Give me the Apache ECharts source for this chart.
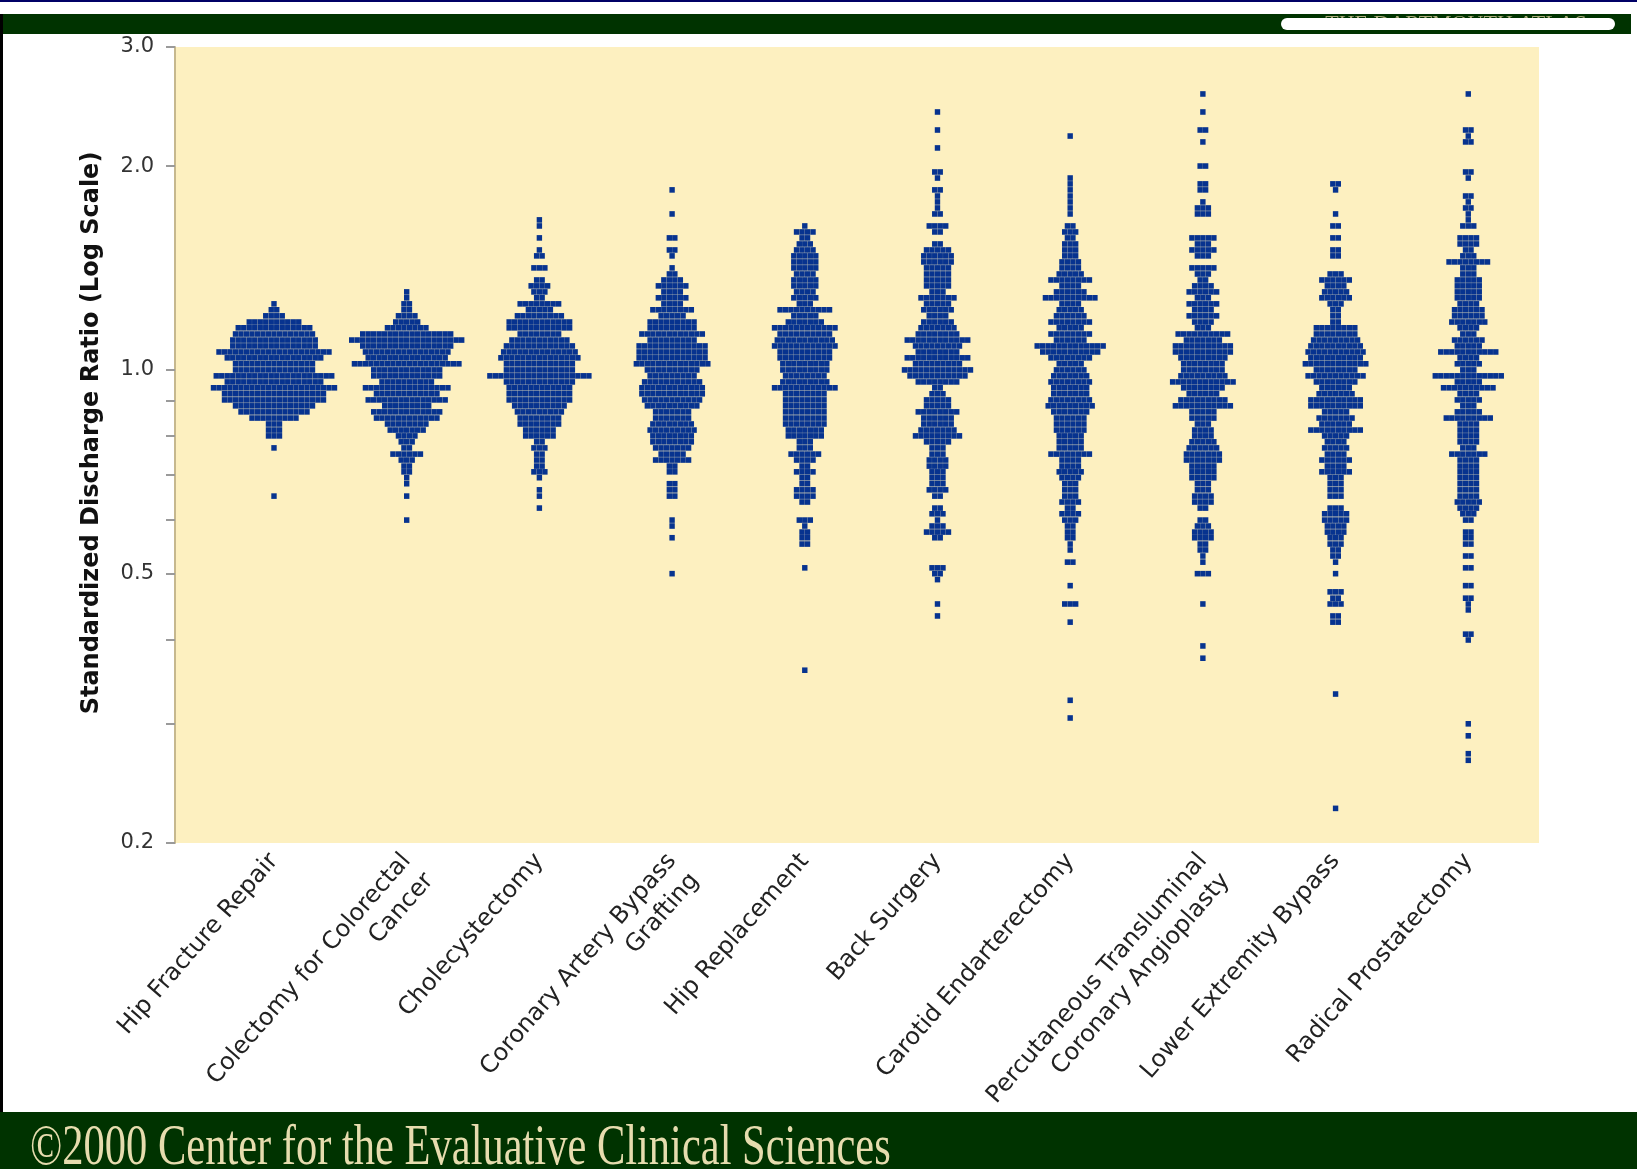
<!DOCTYPE html>
<html>
<head>
<meta charset="utf-8">
<script src="https://cdn.jsdelivr.net/npm/echarts@6/dist/echarts.min.js"></script>
<style>
  html, body { margin: 0; padding: 0; background: #ffffff; }
  #chart { width: 1637px; height: 1169px; }
</style>
</head>
<body>
<div id="chart"></div>
<script>
// ---- categories ----
const procedures = [
  'Hip Fracture Repair',
  'Colectomy for Colorectal\nCancer',
  'Cholecystectomy',
  'Coronary Artery Bypass\nGrafting',
  'Hip Replacement',
  'Back Surgery',
  'Carotid Endarterectomy',
  'Percutaneous Transluminal\nCoronary Angioplasty',
  'Lower Extremity Bypass',
  'Radical Prostatectomy'
];

// ---- data: each row of dots = [standardized discharge ratio, number of regions] ----
const hipFractureRepair = [[1.252,1],[1.227,2],[1.202,4],[1.177,10],[1.154,14],[1.130,15],[1.107,16],[1.085,16],[1.063,21],[1.042,18],[1.021,15],[1.000,15],[0.980,22],[0.960,18],[0.941,23],[0.922,19],[0.903,19],[0.885,15],[0.867,13],[0.849,9],[0.832,3],[0.815,3],[0.799,3],[0.767,1],[0.651,1]];

const colectomy = [[1.304,1],[1.278,1],[1.252,2],[1.227,2],[1.202,4],[1.177,5],[1.154,8],[1.130,17],[1.107,21],[1.085,17],[1.063,16],[1.042,15],[1.021,20],[1.000,13],[0.980,13],[0.960,10],[0.941,16],[0.922,12],[0.903,15],[0.885,9],[0.867,13],[0.849,12],[0.832,8],[0.815,7],[0.799,4],[0.783,3],[0.767,2],[0.751,6],[0.736,3],[0.721,2],[0.707,2],[0.693,1],[0.679,1],[0.651,1],[0.600,1]];

const cholecystectomy = [[1.666,1],[1.632,1],[1.567,1],[1.504,1],[1.474,2],[1.415,3],[1.358,2],[1.331,4],[1.304,3],[1.278,2],[1.252,8],[1.227,5],[1.202,9],[1.177,12],[1.154,12],[1.130,8],[1.107,11],[1.085,13],[1.063,14],[1.042,15],[1.021,13],[1.000,13],[0.980,19],[0.960,13],[0.941,12],[0.922,12],[0.903,12],[0.885,10],[0.867,9],[0.849,8],[0.832,8],[0.815,6],[0.799,6],[0.783,2],[0.767,3],[0.751,2],[0.736,2],[0.721,2],[0.707,3],[0.693,1],[0.665,1],[0.651,1],[0.625,1]];

const coronaryBypass = [[1.845,1],[1.700,1],[1.567,2],[1.504,2],[1.474,1],[1.415,1],[1.386,2],[1.358,4],[1.331,6],[1.304,4],[1.278,6],[1.252,4],[1.227,8],[1.202,5],[1.177,9],[1.154,9],[1.130,12],[1.107,9],[1.085,13],[1.063,13],[1.042,13],[1.021,14],[1.000,10],[0.980,9],[0.960,11],[0.941,12],[0.922,12],[0.903,11],[0.885,10],[0.867,7],[0.849,7],[0.832,8],[0.815,9],[0.799,8],[0.783,8],[0.767,7],[0.751,5],[0.736,7],[0.721,2],[0.707,2],[0.679,2],[0.665,2],[0.651,2],[0.600,1],[0.588,1],[0.565,1],[0.500,1]];

const hipReplacement = [[1.632,1],[1.599,4],[1.567,2],[1.535,3],[1.504,4],[1.474,5],[1.444,5],[1.415,5],[1.386,4],[1.358,5],[1.331,5],[1.304,4],[1.278,5],[1.252,3],[1.227,10],[1.202,5],[1.177,7],[1.154,12],[1.130,10],[1.107,11],[1.085,12],[1.063,10],[1.042,10],[1.021,9],[1.000,9],[0.980,8],[0.960,9],[0.941,12],[0.922,8],[0.903,8],[0.885,8],[0.867,8],[0.849,8],[0.832,8],[0.815,7],[0.799,7],[0.783,3],[0.767,3],[0.751,6],[0.736,4],[0.721,2],[0.707,4],[0.693,2],[0.679,2],[0.665,4],[0.651,4],[0.638,2],[0.600,3],[0.588,1],[0.576,2],[0.565,2],[0.553,2],[0.510,1],[0.360,1]];

const backSurgery = [[2.405,1],[2.262,1],[2.128,1],[1.961,2],[1.921,1],[1.845,2],[1.807,1],[1.771,1],[1.735,1],[1.700,2],[1.632,4],[1.599,2],[1.535,2],[1.504,5],[1.474,6],[1.444,6],[1.415,5],[1.386,5],[1.358,5],[1.331,5],[1.304,3],[1.278,7],[1.252,5],[1.227,6],[1.202,4],[1.177,6],[1.154,7],[1.130,8],[1.107,12],[1.085,9],[1.063,8],[1.042,12],[1.021,9],[1.000,13],[0.980,11],[0.960,8],[0.941,2],[0.922,3],[0.903,5],[0.885,5],[0.867,8],[0.849,6],[0.832,6],[0.815,7],[0.799,9],[0.783,5],[0.767,3],[0.751,3],[0.736,4],[0.721,4],[0.707,3],[0.693,3],[0.679,3],[0.665,4],[0.651,2],[0.625,2],[0.613,3],[0.600,1],[0.588,3],[0.576,5],[0.565,2],[0.510,3],[0.500,2],[0.490,1],[0.451,1],[0.433,1]];

const carotidEndarterectomy = [[2.216,1],[1.921,1],[1.883,1],[1.845,1],[1.807,1],[1.771,1],[1.735,1],[1.700,1],[1.632,2],[1.599,3],[1.567,2],[1.535,3],[1.504,3],[1.474,3],[1.444,4],[1.415,4],[1.386,5],[1.358,8],[1.331,4],[1.304,6],[1.278,10],[1.252,4],[1.227,5],[1.202,6],[1.177,8],[1.154,5],[1.130,8],[1.107,6],[1.085,13],[1.063,11],[1.042,8],[1.021,5],[1.000,6],[0.980,7],[0.960,8],[0.941,7],[0.922,7],[0.903,8],[0.885,9],[0.867,7],[0.849,6],[0.832,6],[0.815,6],[0.799,5],[0.783,5],[0.767,5],[0.751,8],[0.736,4],[0.721,4],[0.707,5],[0.693,4],[0.679,3],[0.665,3],[0.651,3],[0.638,4],[0.625,2],[0.613,4],[0.600,3],[0.588,2],[0.576,2],[0.565,2],[0.553,1],[0.542,1],[0.520,2],[0.480,1],[0.451,3],[0.424,1],[0.325,1],[0.306,1]];

const angioplasty = [[2.557,1],[2.405,1],[2.262,2],[2.172,1],[2.001,2],[1.883,2],[1.845,2],[1.771,1],[1.735,3],[1.700,3],[1.567,5],[1.535,3],[1.504,5],[1.474,3],[1.415,5],[1.386,3],[1.358,2],[1.331,4],[1.304,6],[1.278,3],[1.252,6],[1.227,4],[1.202,6],[1.177,4],[1.154,3],[1.130,10],[1.107,7],[1.085,11],[1.063,11],[1.042,9],[1.021,8],[1.000,8],[0.980,9],[0.960,12],[0.941,8],[0.922,6],[0.903,9],[0.885,11],[0.867,5],[0.849,5],[0.832,3],[0.815,4],[0.799,4],[0.783,5],[0.767,6],[0.751,7],[0.736,7],[0.721,5],[0.707,5],[0.693,5],[0.679,3],[0.665,3],[0.651,4],[0.638,4],[0.625,2],[0.600,2],[0.588,3],[0.576,4],[0.565,4],[0.553,2],[0.542,2],[0.531,1],[0.520,1],[0.500,3],[0.451,1],[0.391,1],[0.375,1]];

const lowerExtremityBypass = [[1.883,2],[1.845,1],[1.700,1],[1.632,2],[1.567,2],[1.504,2],[1.474,2],[1.386,3],[1.358,6],[1.331,4],[1.304,5],[1.278,6],[1.252,3],[1.227,2],[1.202,2],[1.177,2],[1.154,8],[1.130,8],[1.107,9],[1.085,10],[1.063,11],[1.042,10],[1.021,12],[1.000,8],[0.980,11],[0.960,8],[0.941,6],[0.922,7],[0.903,10],[0.885,10],[0.867,5],[0.849,7],[0.832,6],[0.815,10],[0.799,5],[0.783,4],[0.767,5],[0.751,4],[0.736,6],[0.721,4],[0.707,6],[0.693,3],[0.679,3],[0.665,3],[0.651,3],[0.625,3],[0.613,5],[0.600,5],[0.588,4],[0.576,4],[0.565,3],[0.553,3],[0.542,2],[0.531,2],[0.520,1],[0.500,1],[0.470,3],[0.460,2],[0.451,3],[0.433,2],[0.424,2],[0.332,1],[0.225,1]];

const radicalProstatectomy = [[2.557,1],[2.262,2],[2.216,1],[2.172,2],[1.961,2],[1.921,1],[1.807,2],[1.771,1],[1.735,2],[1.700,1],[1.666,1],[1.632,3],[1.567,4],[1.535,4],[1.504,2],[1.474,3],[1.444,8],[1.415,3],[1.386,3],[1.358,5],[1.331,5],[1.304,5],[1.278,5],[1.252,4],[1.227,6],[1.202,6],[1.177,7],[1.154,4],[1.130,3],[1.107,6],[1.085,5],[1.063,11],[1.042,4],[1.021,5],[1.000,3],[0.980,13],[0.960,5],[0.941,10],[0.922,4],[0.903,5],[0.885,3],[0.867,5],[0.849,9],[0.832,4],[0.815,4],[0.799,4],[0.783,4],[0.767,3],[0.751,7],[0.736,4],[0.721,4],[0.707,4],[0.693,4],[0.679,4],[0.665,4],[0.651,4],[0.638,5],[0.625,4],[0.613,3],[0.600,2],[0.576,2],[0.565,2],[0.553,2],[0.531,2],[0.510,2],[0.480,2],[0.460,2],[0.451,1],[0.442,1],[0.407,2],[0.399,1],[0.300,1],[0.288,1],[0.271,1],[0.265,1]];

const procedureRows = [hipFractureRepair, colectomy, cholecystectomy, coronaryBypass, hipReplacement,
  backSurgery, carotidEndarterectomy, angioplasty, lowerExtremityBypass, radicalProstatectomy];

// ---- tick values (log scale) ----
const yTickValues = [3.0, 2.0, 1.0, 0.9, 0.8, 0.7, 0.6, 0.5, 0.4, 0.3, 0.2];
const yLabelValues = [3.0, 2.0, 1.0, 0.5, 0.2];
const footerText = '\u00a92000 Center for the Evaluative Clinical Sciences';
const yAxisTitle = 'Standardized Discharge Ratio (Log Scale)';

// ---- layout ----
const GRID = { left: 175, top: 47, width: 1364, height: 796 };
const X_MIN = -0.746, X_MAX = 9.533;
const DOT_PITCH_PX = 5.5;
const pxPerUnit = GRID.width / (X_MAX - X_MIN);
const dotPitch = DOT_PITCH_PX / pxPerUnit;

// beeswarm: dots of a row are laid side by side, centred on the category
const points = [];
procedureRows.forEach((rows, i) => {
  rows.forEach(([ratio, n]) => {
    for (let j = 0; j < n; j++) {
      points.push([i + (j - (n - 1) / 2) * dotPitch, Math.log(ratio)]);
    }
  });
});

// category labels: first line on the main axis, second line (if any) on a companion axis
const LABEL_ROTATE = 49;
const LABEL_MARGIN = 14;
const LINE_GAP = 30; // distance between label lines, measured perpendicular to text
const rad = LABEL_ROTATE * Math.PI / 180;
const secondLineShift = LINE_GAP * Math.sin(rad) / pxPerUnit;
const secondLineMargin = LABEL_MARGIN + LINE_GAP * Math.cos(rad);
const firstLines = procedures.map(p => p.split('\n')[0]);
const secondLineIdx = procedures.map((p, i) => p.includes('\n') ? i : -1).filter(i => i >= 0);

const labelFont = { fontFamily: 'DejaVu Sans', fontSize: 24, color: '#222222' };
const hiddenAxisParts = { axisLine: { show: false }, axisTick: { show: false }, splitLine: { show: false } };

const chart = echarts.init(document.getElementById('chart'), null, { renderer: 'canvas' });
chart.setOption({
  animation: false,
  backgroundColor: '#ffffff',
  grid: {
    left: GRID.left, top: GRID.top, width: GRID.width, height: GRID.height,
    show: true, backgroundColor: '#fdf0c0', borderWidth: 0
  },
  xAxis: [
    Object.assign({
      type: 'value', min: X_MIN, max: X_MAX, position: 'bottom',
      axisLabel: Object.assign({
        customValues: procedures.map((_, i) => i),
        formatter: v => firstLines[Math.round(v)] || '',
        rotate: LABEL_ROTATE, margin: LABEL_MARGIN
      }, labelFont)
    }, hiddenAxisParts),
    Object.assign({
      type: 'value', min: X_MIN, max: X_MAX, position: 'bottom',
      axisLabel: Object.assign({
        customValues: secondLineIdx.map(i => i + secondLineShift),
        formatter: v => (procedures[Math.round(v - secondLineShift)] || '').split('\n')[1] || '',
        rotate: LABEL_ROTATE, margin: secondLineMargin
      }, labelFont)
    }, hiddenAxisParts)
  ],
  yAxis: {
    type: 'value', min: Math.log(0.2), max: Math.log(3.0),
    axisLine: { show: true, onZero: false, lineStyle: { color: '#c6b88e', width: 2 } },
    axisTick: { show: true, customValues: yTickValues.map(Math.log), length: 9, inside: false,
      lineStyle: { color: '#9a9a9a', width: 2 } },
    axisLabel: {
      customValues: yLabelValues.map(Math.log),
      formatter: v => Math.exp(v).toFixed(1),
      margin: 21, fontFamily: 'DejaVu Sans', fontSize: 21, color: '#333333'
    },
    splitLine: { show: false }
  },
  series: [{
    type: 'scatter',
    xAxisIndex: 0,
    data: points,
    symbol: 'rect',
    symbolSize: [5.4, 5.6],
    itemStyle: { color: '#07338f', opacity: 1 },
    silent: true
  }],
  graphic: { elements: [
    { type: 'rect', z: 10, shape: { x: 0, y: 0, width: 1637, height: 2 }, style: { fill: '#000066' } },
    { type: 'rect', z: 10, shape: { x: 0, y: 14, width: 1631, height: 20 }, style: { fill: '#003300' } },
    { type: 'text', z: 11, x: 1456, y: 24,
      style: { text: 'THE DARTMOUTH ATLAS', font: '22px "Liberation Serif"', fill: '#c8bf90', opacity: 0.85,
        align: 'center', verticalAlign: 'middle', textAlign: 'center', textVerticalAlign: 'middle' } },
    { type: 'rect', z: 12, shape: { x: 1281, y: 18, width: 334, height: 12, r: 6 }, style: { fill: '#ffffff' } },
    { type: 'rect', z: 10, shape: { x: 0, y: 14, width: 3, height: 1098 }, style: { fill: '#000000' } },
    { type: 'rect', z: 10, shape: { x: 0, y: 1112, width: 1637, height: 57 }, style: { fill: '#003300' } },
    { type: 'text', z: 11, x: 30, y: 1149, scaleY: 1.35,
      style: { text: footerText, font: '42.5px "Liberation Serif"', fill: '#e6dcae',
        align: 'left', verticalAlign: 'middle', textAlign: 'left', textVerticalAlign: 'middle' } },
    { type: 'text', z: 11, x: 92, y: 433, rotation: Math.PI / 2,
      style: { text: yAxisTitle, font: 'bold 24px "DejaVu Sans"', fill: '#111111',
        align: 'center', verticalAlign: 'middle', textAlign: 'center', textVerticalAlign: 'middle' } }
  ] }
});
</script>
</body>
</html>
